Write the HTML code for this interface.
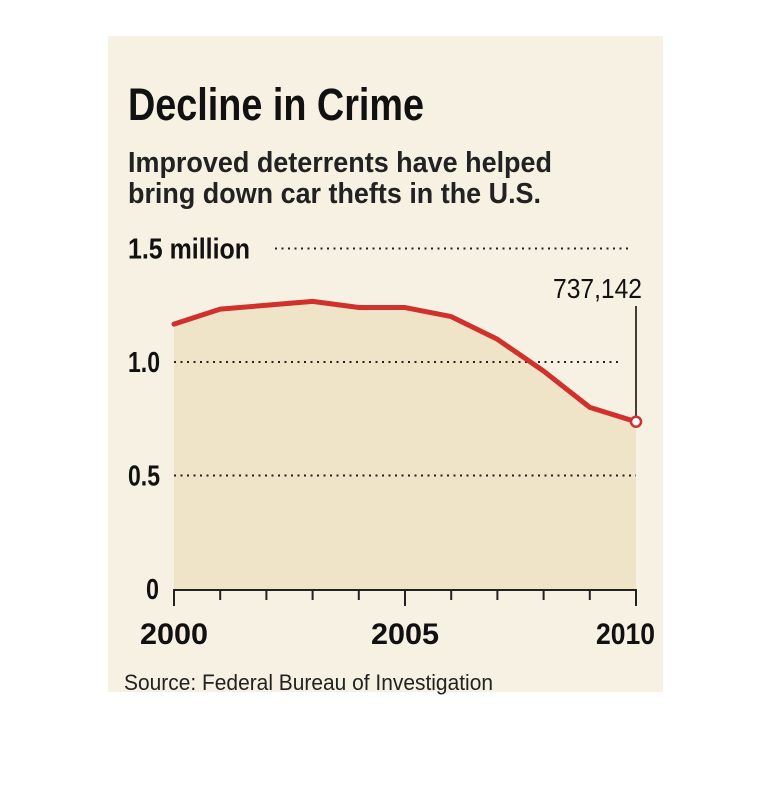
<!DOCTYPE html>
<html><head><meta charset="utf-8"><style>
body{margin:0;background:#fff;width:770px;height:788px;overflow:hidden}
svg{display:block;font-family:"Liberation Sans",sans-serif}
</style></head><body>
<svg id="chart" width="770" height="788">
<rect x="108" y="36" width="555" height="656" fill="#f7f1e3"/>
<text x="128" y="120" font-size="45" font-weight="bold" fill="#111" textLength="296" lengthAdjust="spacingAndGlyphs">Decline in Crime</text>
<text x="128" y="172" font-size="29" font-weight="bold" fill="#222" textLength="424" lengthAdjust="spacingAndGlyphs">Improved deterrents have helped</text>
<text x="128" y="203" font-size="29" font-weight="bold" fill="#222" textLength="413" lengthAdjust="spacingAndGlyphs">bring down car thefts in the U.S.</text>
<g id="plot"></g>
<text x="124" y="690" font-size="22" fill="#222" textLength="369" lengthAdjust="spacingAndGlyphs">Source: Federal Bureau of Investigation</text>
</svg>
<script>
const years=[2000,2001,2002,2003,2004,2005,2006,2007,2008,2009,2010];
const thefts=[1.167,1.233,1.25,1.267,1.24,1.24,1.2,1.1,0.96,0.8,0.737];
const yTicks=[0,0.5,1.0,1.5];
const yTickLabels=["0","0.5","1.0","1.5 million"];
const xLabelYears=[2000,2005,2010];
const lastLabel="737,142";
const NS="http://www.w3.org/2000/svg";
const g=document.getElementById('plot');
const x=v=>174+(v-2000)*46.2;
const y=v=>589-v*227;
function mk(t,a){const e=document.createElementNS(NS,t);for(const k in a)e.setAttribute(k,a[k]);g.appendChild(e);return e;}
let d=`M${x(years[0])},${y(0)}`;years.forEach((yr,i)=>d+=`L${x(yr)},${y(thefts[i])}`);d+=`L${x(years[years.length-1])},${y(0)}Z`;
let area=mk('path',{d,fill:'#f0e4c8'});


yTicks.forEach((t,i)=>{
 if(t>0){
  const x1=t===1.5?275:x(2000), x2=t===1.5?632:(t===1.0?622:636);
  const l=mk('line',{x1,x2,y1:y(t),y2:y(t),stroke:'#222','stroke-width':2,'stroke-dasharray':'2 4.5'});
  
  
 }
 const lab=yTickLabels[i];
 const tx=mk('text',{x:lab==="0"?146:128,y:y(t)+10,'font-size':29,'font-weight':'bold',fill:'#111'});
 tx.textContent=lab;
 if(lab.length>3){tx.setAttribute('textLength',122);tx.setAttribute('lengthAdjust','spacingAndGlyphs');}
 else if(lab.length===3){tx.setAttribute('textLength',32);tx.setAttribute('lengthAdjust','spacingAndGlyphs');}
 else {tx.setAttribute('textLength',13);tx.setAttribute('lengthAdjust','spacingAndGlyphs');}
 
 
});
const ax=mk('line',{x1:x(2000),x2:x(2010),y1:y(0)+1,y2:y(0)+1,stroke:'#222','stroke-width':2});


years.forEach(yr=>{
 const big=xLabelYears.includes(yr);
 const t=mk('line',{x1:x(yr),x2:x(yr),y1:y(0),y2:y(0)+(big?17:11),stroke:'#222','stroke-width':2});
 
 
});
xLabelYears.forEach(yr=>{
 const t=mk('text',{x:yr===2010?x(yr)-40:x(yr)-34,y:644,'font-size':30,'font-weight':'bold',fill:'#111',textLength:yr===2010?59:68,lengthAdjust:'spacingAndGlyphs'});
 t.textContent=yr;
 
 
});
const pts=years.map((yr,i)=>`${x(yr)},${y(thefts[i])}`).join(' ');
const pl=mk('polyline',{points:pts,fill:'none',stroke:'#d0312d','stroke-width':5,'stroke-linejoin':'round','stroke-linecap':'round'});


const lx=x(2010), ly=y(thefts[thefts.length-1]);
const vl=mk('line',{x1:lx,x2:lx,y1:306,y2:ly-5,stroke:'#111','stroke-width':1.6});


const c=mk('circle',{cx:lx,cy:ly,r:5,fill:'#fff',stroke:'#d0312d','stroke-width':2.5});


const at=mk('text',{x:553,y:298,'font-size':28,fill:'#111',textLength:89,lengthAdjust:'spacingAndGlyphs'});
at.textContent=lastLabel;


</script>
</body></html>
